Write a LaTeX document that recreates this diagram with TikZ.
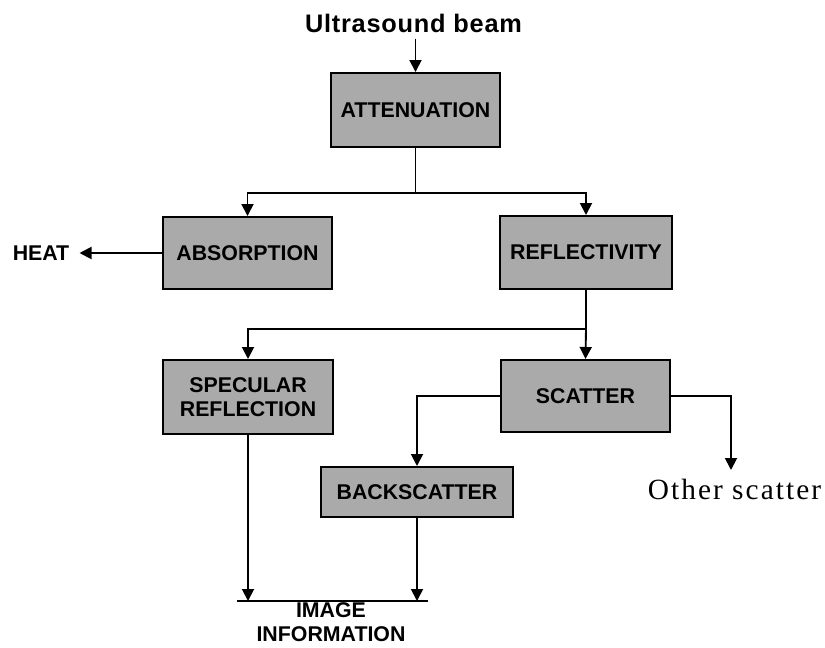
\documentclass[tikz,border=0pt]{standalone}
\usepackage{fontspec}
\setmainfont{Liberation Sans}
\newfontfamily\othfont[LetterSpace=7]{Liberation Serif}
\newfontfamily\titlefont[LetterSpace=3]{Liberation Sans}
\usetikzlibrary{arrows.meta}
\definecolor{boxgray}{RGB}{170,170,170}
\begin{document}
\begin{tikzpicture}[x=0.75pt,y=-0.75pt,
  box/.style={draw=black, line width=1.5pt, fill=boxgray, font=\fontsize{16}{18}\selectfont\bfseries, align=center, inner sep=0pt},
  conn/.style={line width=1.4pt},
  arr/.style={conn,-{Triangle[width=9pt,length=9pt]}},
  lbl/.style={font=\fontsize{16}{18}\selectfont\bfseries, inner sep=0pt, align=center}]
\useasboundingbox (0,0) rectangle (825,647);
% title
\node[inner sep=0pt, anchor=base, font=\titlefont\fontsize{19}{22}\selectfont\bfseries] (title) at (413.5,32) {Ultrasound beam};
% boxes
\node[box, minimum width=126.75pt, minimum height=55.5pt] (att) at (415.5,110) {ATTENUATION};
\node[box, minimum width=126.75pt, minimum height=54pt] (abs) at (247.5,253) {ABSORPTION};
\node[box, minimum width=129pt, minimum height=54.75pt] (refl) at (586,252.5) {REFLECTIVITY};
\node[box, minimum width=127.5pt, minimum height=55.5pt] (spec) at (248,397) {SPECULAR\\REFLECTION};
\node[box, minimum width=126.75pt, minimum height=54pt] (scat) at (585.5,396) {SCATTER};
\node[box, minimum width=144pt, minimum height=37.5pt] (back) at (417,492) {BACKSCATTER};
% labels
\node[lbl] (heat) at (41,253) {HEAT};
\node[lbl, font=\fontsize{16}{18}\selectfont\bfseries] (img) at (331,622) {IMAGE\\INFORMATION};
\node[inner sep=0pt, anchor=base, font=\othfont\fontsize{22}{26}\selectfont] (other) at (734.5,499) {Other scatter};
% coordinates
\coordinate (j1) at (415.5,193);
\coordinate (j2) at (586,329);
\coordinate (ot) at (731,470);
\coordinate (il) at (237,601);
\coordinate (ir) at (428,601);
% connectors
\draw[arr] ([yshift=-4.5pt]att.north |- title.south) -- (att.north);
\draw[conn] (att.south) -- (j1);
\draw[arr] (j1) -| (abs.north);
\draw[arr] (j1) -| (refl.north);
\draw[arr, shorten >=7.5pt] (abs.west) -- (heat.east);
\draw[conn] (refl.south) -- (j2);
\draw[arr] (j2) -| (spec.north);
\draw[arr] (j2) -- (scat.north);
\draw[arr] (scat.west) -| (back.north);
\draw[arr] (scat.east) -| (ot);
\draw[conn] (il) -- (ir);
\draw[arr] (spec.south) -- (spec.south |- il);
\draw[arr] (back.south) -- (back.south |- il);
\end{tikzpicture}
\end{document}
